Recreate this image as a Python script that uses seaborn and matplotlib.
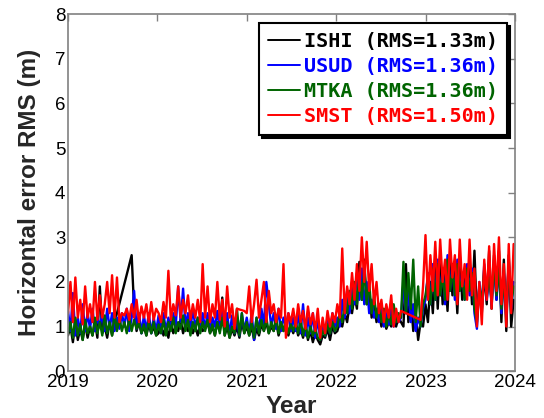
import numpy as np
import pandas as pd
import matplotlib
matplotlib.use("Agg")
import matplotlib.pyplot as plt
import seaborn as sns
from matplotlib.lines import Line2D

N = None
# 10-day sampling starting 2019-01-01
ishi = [0.8, 1.0, 0.65, 1.1, 0.7, 0.95, 0.7, 1.05, 0.75, 1.0, 0.8, 1.1, 0.75, 1.9, 0.85, 1.0, 0.75, 1.1, 0.8,
        1.1, 1.3, N, N, N, N, N, 2.6, 1.4, 0.9, 1.1, 0.85, 1.0, 0.8, 1.05, 0.85, 1.0, 0.8,
        0.85, 1.05, 0.8, 1.0, 0.75, 1.1, 0.85, 1.0, 0.9, 1.15, 0.85, 1.05, 0.9, 1.1, 0.85, 1.0, 0.8, 1.05, 0.9,
        0.95, 1.1, 0.85, 1.0, 0.8, 1.1, 0.9, 1.65, 0.8, 1.0, 0.75, 0.95, 0.8, 1.0, 0.75, 1.1, 0.85, 1.0,
        0.8, 1.0, 0.7, 0.95, 0.8, 1.05, 0.9, 1.1, 0.85, 1.0, 0.9, 1.1, 0.8, 1.0, 0.9, 1.05, 0.8, 1.0,
        0.85, 1.05, 0.8, 0.95, 0.75, 1.0, 0.7, 0.9, 0.65, 0.85, 0.7, 0.6, 0.8, 0.75, 0.95, 0.7, 1.0, 0.85,
        0.9, 1.1, 1.0, 1.3, 1.1, 1.5, 1.3, 1.7, 1.4, 2.45, 1.6, 2.5, 1.5, 1.8, 1.2, 1.5, 1.1, 1.3,
        1.0, 1.2, 0.95, 1.1, 1.0, 1.4, 1.0, 1.2, 1.1, 1.0, 2.4, 1.1, 1.6, 0.9, 1.3, 0.7, 1.1, 1.0,
        1.5, 1.1, 2.0, 1.3, 2.5, 1.4, 2.6, 1.5, 2.2, 1.35, 2.6, 1.7, 2.3, 1.3, 2.6, 1.6, 2.2, 1.8, 2.5,
        1.5, 2.7, 1.2, 1.9, 1.3, 2.2, 1.5, 2.7, 1.4, 2.6, 1.6, 2.7, 1.1, 2.5, 0.9, 2.6, 1.0, 1.6]
usud = [1.35, 0.9, 1.75, 0.8, 1.2, 0.85, 1.5, 0.9, 1.3, 0.95, 1.4, 0.9, 1.2, 1.0, 1.3, 0.9, 1.4, 0.95, 1.3,
        0.9, 1.2, 0.95, 1.3, 1.0, 1.4, 0.9, 1.2, 1.8, 0.95, 1.3, 0.85, 1.25, 0.9, 1.3, 0.85, 1.2, 0.9,
        1.25, 0.85, 1.3, 0.9, 1.2, 0.95, 1.3, 1.0, 1.9, 1.1, 1.85, 1.0, 1.3, 0.95, 1.4, 1.0, 1.2, 0.9, 1.3,
        0.95, 1.3, 0.9, 1.2, 1.0, 1.35, 0.9, 1.5, 0.85, 1.3, 0.8, 1.25, 0.85, 1.2, 0.8, 1.3, 0.9, 1.2,
        0.85, 1.3, 0.7, 1.2, 0.9, 1.4, 1.0, 2.0, 1.5, 1.0, 1.3, 0.95, 1.4, 0.9, 1.2, 1.0, 1.3, 0.9,
        1.2, 0.9, 1.3, 0.85, 1.5, 0.8, 1.2, 0.85, 1.3, 0.75, 1.2, 0.7, 1.1, 0.8, 1.2, 0.85, 1.3, 0.9,
        1.2, 1.0, 1.6, 1.2, 1.8, 1.3, 2.0, 1.5, 2.2, 1.6, 2.3, 1.5, 2.0, 1.3, 1.6, 1.2, 1.4, 1.1,
        1.5, 1.0, 1.3, 1.05, 1.5, 1.0, 1.3, 1.1, 1.2, 2.0, 1.3, 1.8, 1.1, 1.5, 0.9, 1.2, 1.0, 1.4,
        1.6, 2.2, 1.5, 2.4, 1.6, 2.5, 1.7, 2.3, 1.5, 2.6, 1.8, 2.4, 1.6, 2.5, 1.8, 2.2, 1.6, 2.4, 1.7,
        2.3, 1.3, 0.95, 2.0, 1.4, 2.4, 1.6, 2.2, 1.5, 2.5, 1.6, 2.4, 1.3, 2.2, 1.2, 2.5, 1.4, 2.0]
mtka = [0.85, 1.1, 0.75, 1.2, 0.8, 1.05, 0.7, 1.15, 0.85, 1.0, 0.8, 1.2, 0.85, 1.1, 0.8, 1.25, 0.85, 1.1, 0.8,
        1.3, 0.9, 1.2, 0.9, 1.1, 0.85, 1.2, 0.9, 1.15, 0.95, 1.1, 0.85, 1.05, 0.8, 1.15, 0.85, 1.1, 0.8,
        1.05, 0.85, 1.15, 0.8, 1.1, 0.9, 1.2, 0.85, 1.1, 0.95, 1.25, 0.9, 1.15, 0.8, 1.1, 0.9, 1.2, 0.85, 1.1,
        0.9, 1.15, 0.85, 1.05, 0.8, 1.1, 0.85, 1.2, 0.8, 1.1, 0.75, 1.0, 0.85, 1.4, 0.8, 1.3, 0.85, 1.1,
        0.8, 1.1, 0.75, 1.2, 0.85, 1.15, 0.9, 1.2, 0.85, 1.1, 0.9, 1.25, 0.85, 1.1, 0.9, 1.15, 0.85, 1.05,
        0.9, 1.1, 0.85, 1.15, 0.8, 1.05, 0.75, 1.0, 0.8, 0.95, 0.75, 0.7, 0.9, 0.8, 1.05, 0.85, 1.1, 0.9,
        1.0, 1.3, 1.1, 1.5, 1.3, 1.8, 1.4, 2.0, 1.5, 2.2, 1.6, 2.3, 1.5, 2.0, 1.3, 1.7, 1.2, 1.5,
        1.1, 1.4, 1.0, 1.3, 1.05, 1.5, 1.1, 1.3, 1.2, 2.45, 1.3, 2.2, 1.4, 2.5, 1.1, 1.9, 1.0, 1.5,
        1.7, 2.1, 1.5, 2.3, 1.6, 2.4, 1.7, 2.2, 1.6, 2.5, 1.8, 2.3, 1.7, 2.4, 1.8, 2.1, 1.6, 2.3, 1.8,
        2.2, 1.4, 1.1, 1.9, 1.5, 2.3, 1.7, 2.1, 1.6, 2.4, 1.7, 2.3, 1.4, 2.1, 1.3, 2.4, 1.5, 1.9]
smst = [1.3, 2.0, 1.1, 2.1, 1.2, 1.6, 1.05, 1.9, 1.2, 1.5, 1.1, 2.0, 1.15, 1.7, 1.2, 1.5, 2.0, 1.3, 2.15,
        1.2, 2.1, 1.1, 1.3, 1.25, 1.4, 1.15, 1.5, 1.2, 1.6, 1.1, 1.45, 1.2, 1.5, 1.1, 1.55, 1.15, 1.4,
        1.3, 1.1, 1.55, 1.2, 2.25, 1.15, 1.5, 1.25, 1.9, 1.2, 1.6, 1.3, 1.7, 1.15, 1.5, 1.2, 1.6, 1.1, 2.4,
        1.2, 1.9, 1.1, 1.5, 1.2, 2.0, 1.15, 1.6, 1.0, 1.9, 1.2, 1.5, 0.95, 1.4, N, N, 1.35, 1.3,
        1.9, 1.1, 1.5, 2.05, 1.2, 1.6, 2.0, 1.1, 1.8, 1.3, 1.5, 1.1, 1.4, 1.2, 2.4, 0.75, 1.3, 1.1,
        1.4, 1.0, 1.5, 1.1, 1.35, 0.95, 1.45, 1.05, 1.3, 0.9, 1.4, 0.75, 1.2, 0.85, 1.35, 1.0, 1.3, 1.1,
        1.5, 1.2, 2.75, 1.3, 1.9, 1.5, 2.2, 1.6, 2.4, 1.8, 3.0, 2.0, 2.9, 1.8, 2.4, 1.5, 2.0, 1.3,
        1.6, 1.1, 1.5, 1.2, 1.7, 1.0, 1.4, 1.1, 1.35, N, N, N, N, N, N, N, 1.15, 1.9,
        3.05, 1.6, 2.6, 1.8, 2.9, 1.7, 2.95, 2.0, 2.5, 1.6, 2.95, 2.1, 2.6, 1.5, 2.95, 1.9, 2.4, 1.6, 2.95,
        1.7, 2.3, 1.0, 2.0, 1.05, 2.5, 1.6, 2.8, 1.4, 2.85, 1.8, 3.0, 1.5, 2.4, 1.0, 2.85, 1.3, 2.85]

stations = ["ISHI", "USUD", "MTKA", "SMST"]
rms = ["1.33", "1.36", "1.36", "1.50"]
colors = ["#000000", "#0000FF", "#006400", "#FF0000"]
xticks = [2019, 2020, 2021, 2022, 2023, 2024]

frames = []
for name, vals in zip(stations, [ishi, usud, mtka, smst]):
    n = len(vals)
    yr = 2019 + np.arange(n) * 10 / 365.25
    frames.append(pd.DataFrame({"year": yr, "rms": vals, "station": name}))
df = pd.concat(frames, ignore_index=True).dropna()

sns.set_theme(style="white")
plt.rcParams["font.family"] = ["Liberation Sans", "DejaVu Sans"]

fig = plt.figure(figsize=(5.44, 4.18), dpi=100)
ax = fig.add_axes([0.125, 0.112, 0.822, 0.854])
sns.lineplot(data=df, x="year", y="rms", hue="station", hue_order=stations,
             palette=colors, estimator=None, sort=False, lw=1.7, legend=False, ax=ax)

ax.set_xlim(2019, 2024)
ax.set_ylim(0, 8)
ax.set_xticks(xticks)
ax.set_xticklabels([str(t) for t in xticks])
ax.set_yticks(range(0, 9))
ax.tick_params(direction="in", length=5, width=1, color="#808080", labelsize=13.5,
               top=True, right=True, pad=2, labelcolor="black")
for s in ax.spines.values():
    s.set_color("#808080")
    s.set_linewidth(1.2)
ax.set_xlabel("Year", fontsize=17.5, fontweight="bold", labelpad=3)
ax.set_ylabel("Horizontal error RMS (m)", fontsize=17.5, fontweight="bold", labelpad=10)

handles = [Line2D([], [], color=c, lw=1.4) for c in colors]
labels = [f"{s} (RMS={r}m)" for s, r in zip(stations, rms)]
leg = ax.legend(handles, labels, loc="upper right", bbox_to_anchor=(0.982, 0.976),
                borderaxespad=0, fancybox=False, frameon=True,
                shadow={"color": "black", "alpha": 1.0},
                prop={"family": "DejaVu Sans Mono", "weight": "bold", "size": 14.5},
                handlelength=1.6, handletextpad=0.2, labelspacing=0.3, borderpad=0.45)
leg.get_frame().set_edgecolor("black")
leg.get_frame().set_linewidth(1.5)
for t, c in zip(leg.get_texts(), colors):
    t.set_color(c)

fig.savefig("out.png", dpi=100)
